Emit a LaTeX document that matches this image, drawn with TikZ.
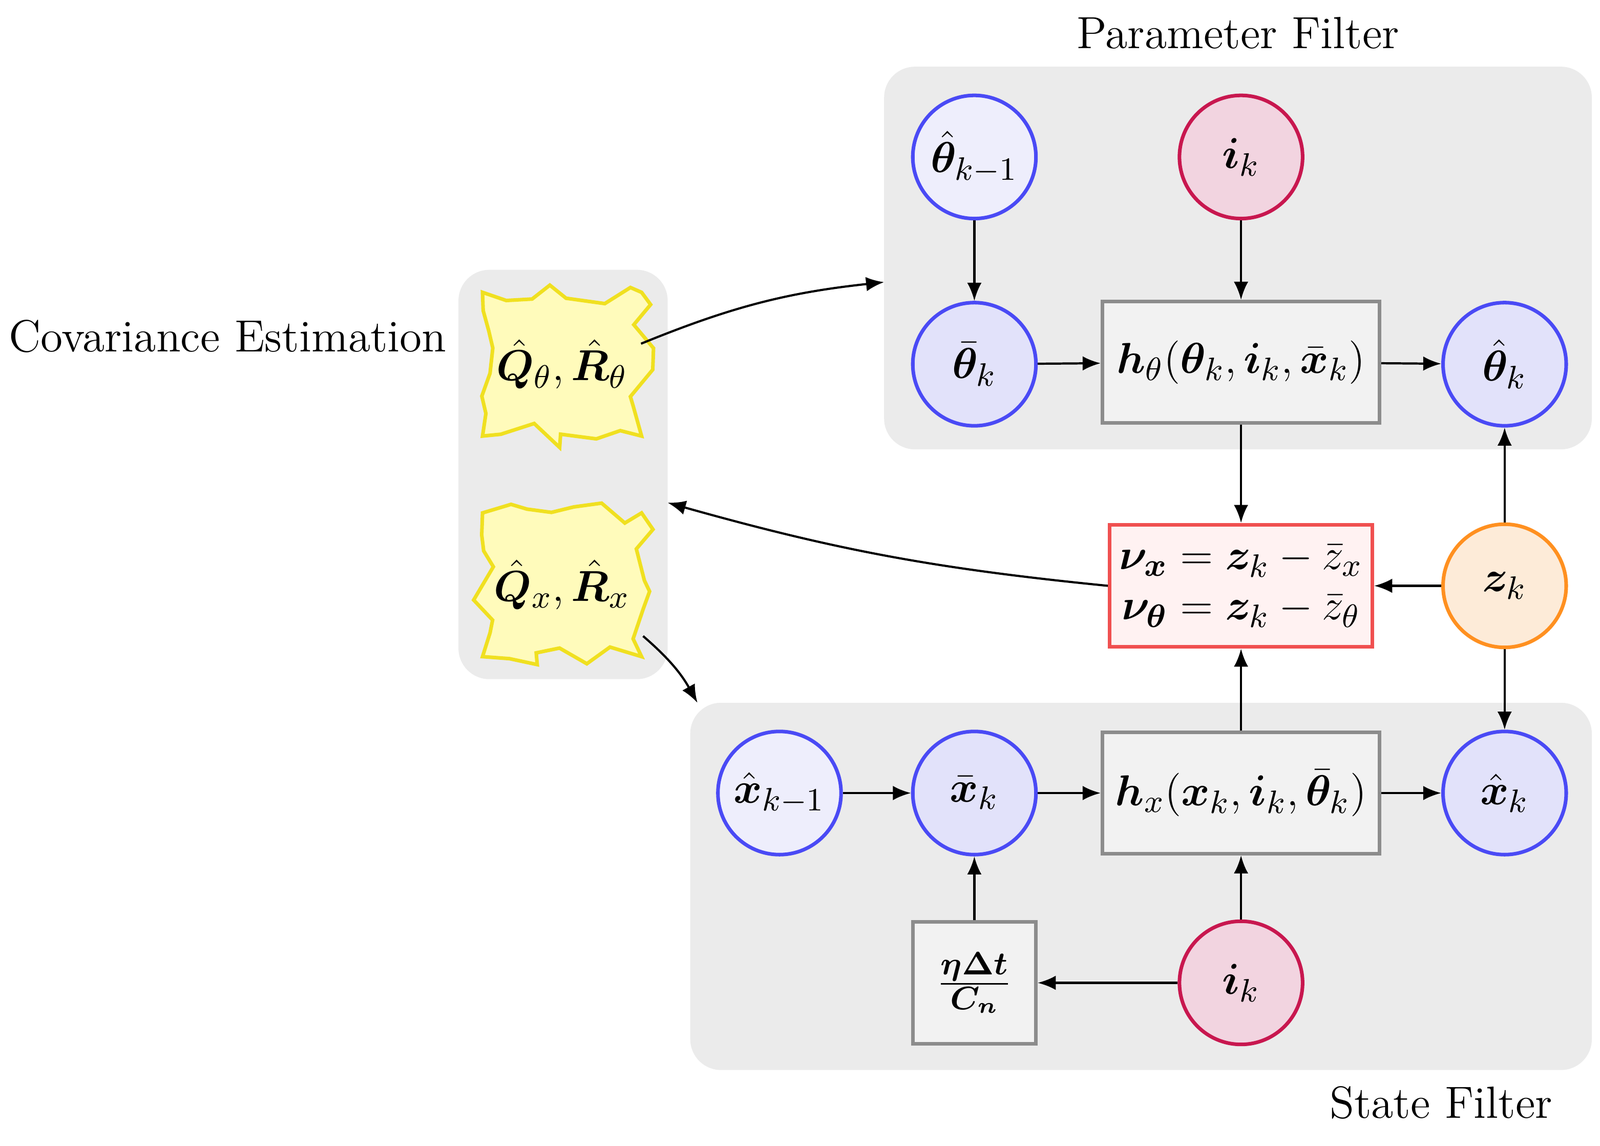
\documentclass[tikz,border=0pt]{standalone}
\usepackage{amsmath,bm}
\usetikzlibrary{shapes.symbols,arrows.meta,decorations.pathmorphing}
\definecolor{bgg}{HTML}{EBEBEB}
\definecolor{cb}{HTML}{4A4AF5}
\definecolor{cf}{HTML}{EEEEFC}
\definecolor{cf2}{HTML}{E2E2FA}
\definecolor{pb}{HTML}{C8174F}
\definecolor{pf}{HTML}{F2D4E0}
\definecolor{ob}{HTML}{FF9020}
\definecolor{of}{HTML}{FDEBD8}
\definecolor{rb}{HTML}{F05050}
\definecolor{rf}{HTML}{FFF2F2}
\definecolor{yb}{HTML}{F0E020}
\definecolor{yf}{HTML}{FFFBBB}
\begin{document}
\begin{tikzpicture}[x=0.01cm,y=-0.01cm,
  every node/.style={font=\fontsize{12.5}{15}\selectfont},
  circ/.style={circle,draw=cb,fill=cf,line width=1pt,minimum size=1.2cm,inner sep=0pt},
  pcirc/.style={circ,draw=pb,fill=pf},
  gbox/.style={draw=gray!90,fill=gray!10,line width=1pt,minimum width=2.7cm,minimum height=1.18cm},
  star/.style={rectangle,draw=yb,fill=yf,line width=1pt,minimum width=1.55cm,minimum height=1.4cm,inner sep=0pt,
    decorate,decoration={random steps,segment length=6pt,amplitude=3.5pt}},
  arr/.style={-{Latex[length=5pt,width=4pt]},line width=0.6pt}]
\useasboundingbox (0,0) rectangle (1560,1117);
\fill[bgg,rounded corners=0.3cm] (862,65) rectangle (1552,438);
\fill[bgg,rounded corners=0.3cm] (673,685) rectangle (1552,1043);
\fill[bgg,rounded corners=0.3cm] (447,263) rectangle (651,662);
\coordinate (pbg) at (862,275);
\coordinate (sbg) at (680,685);
\coordinate (cbg) at (651,490);
\node at (1207,32) {Parameter Filter};
\node at (222,328) {Covariance Estimation};
\node at (1405,1075) {State Filter};
\node[star] (s1) at (548,355) {};
\node at (548,355) {$\hat{\bm Q}_\theta,\hat{\bm R}_\theta$};
\node[star] (s2) at (548,570) {};
\node at (548,570) {$\hat{\bm Q}_x,\hat{\bm R}_x$};
\node[circ] (tkm) at (950,153) {$\hat{\bm\theta}_{k-1}$};
\node[pcirc] (ik1) at (1210,153) {$\bm i_k$};
\node[circ,fill=cf2] (tb) at (950,355) {$\bar{\bm\theta}_k$};
\node[gbox] (ht) at (1210,353) {$\bm h_\theta(\bm\theta_k,\bm i_k,\bar{\bm x}_k)$};
\node[circ,fill=cf2] (th) at (1467,355) {$\hat{\bm\theta}_k$};
\node[draw=rb,fill=rf,line width=1pt,minimum width=2.56cm,minimum height=1.19cm,align=center,inner sep=1pt] (nu) at (1210,571) {$\bm\nu_{\bm x}=\bm z_k-\bar z_x$\\[-1pt]$\bm\nu_{\bm\theta}=\bm z_k-\bar z_\theta$};
\node[circ,draw=ob,fill=of] (zk) at (1467,571) {$\bm z_k$};
\node[circ] (xkm) at (760,773) {$\hat{\bm x}_{k-1}$};
\node[circ,fill=cf2] (xb) at (950,773) {$\bar{\bm x}_k$};
\node[gbox] (hx) at (1210,773) {$\bm h_x(\bm x_k,\bm i_k,\bar{\bm\theta}_k)$};
\node[circ,fill=cf2] (xh) at (1467,773) {$\hat{\bm x}_k$};
\node[gbox,minimum width=1.2cm,minimum height=1.19cm] (fr) at (950,958) {$\frac{\bm\eta\bm\Delta\bm t}{\bm C_{\bm n}}$};
\node[pcirc] (ik2) at (1210,958) {$\bm i_k$};
\draw[arr] (tkm)--(tb);
\draw[arr] (ik1)--(ht);
\draw[arr] (tb)--(ht);
\draw[arr] (ht)--(th);
\draw[arr] (ht)--(nu);
\draw[arr] (zk)--(th);
\draw[arr] (zk)--(nu);
\draw[arr] (zk)--(xh);
\draw[arr] (hx)--(nu);
\draw[arr] (xkm)--(xb);
\draw[arr] (xb)--(hx);
\draw[arr] (hx)--(xh);
\draw[arr] (fr)--(xb);
\draw[arr] (ik2)--(hx);
\draw[arr] (ik2)--(fr);
\draw[arr] (625,335) to[bend left=8] (pbg);
\draw[arr] (nu.west) to[bend left=5] (cbg);
\draw[arr] (627,620) to[bend left=10] (sbg);
\end{tikzpicture}
\end{document}
